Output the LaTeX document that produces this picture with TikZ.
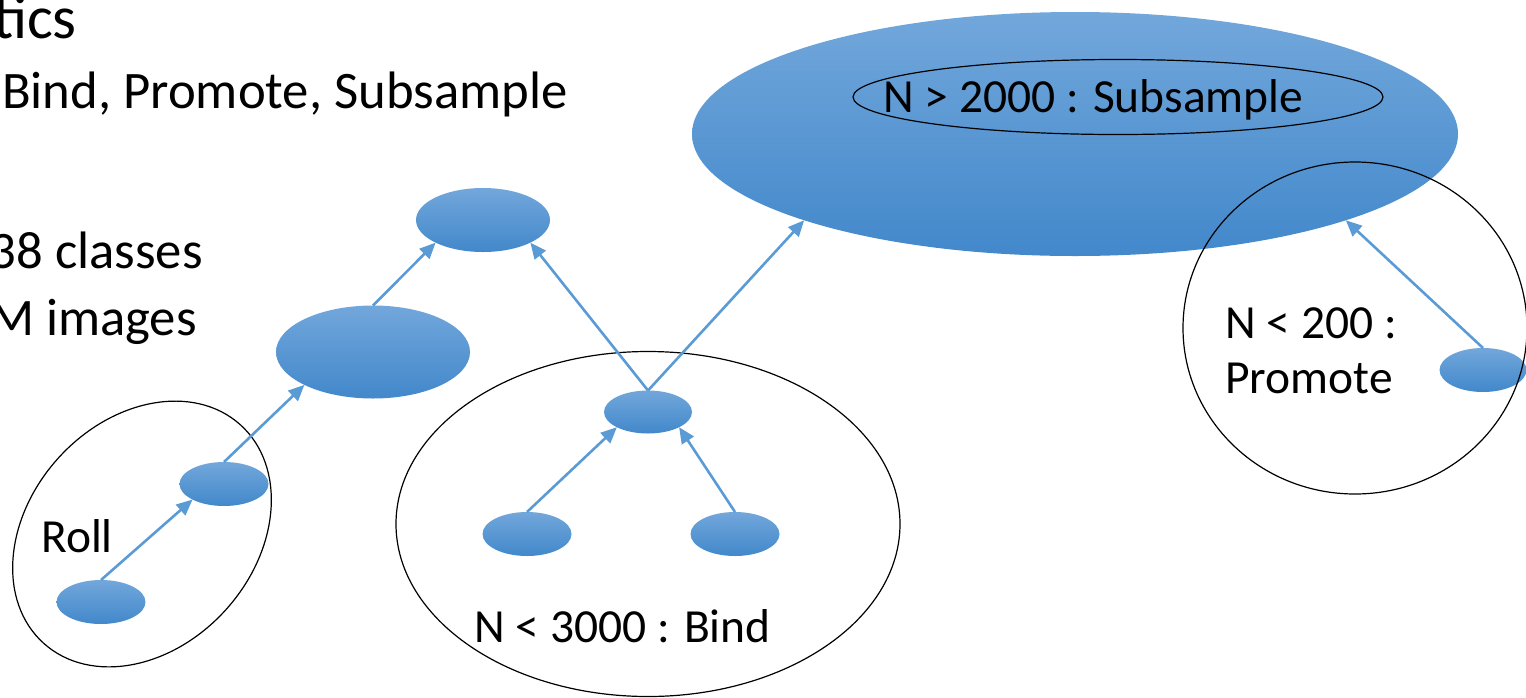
\documentclass[tikz,border=0pt]{standalone}
\usepackage{fontspec}
\setmainfont{Carlito}
\usetikzlibrary{shapes.geometric,arrows.meta}

\definecolor{blobtop}{RGB}{114,167,219}
\definecolor{blobbot}{RGB}{66,136,203}
\definecolor{linkblue}{RGB}{91,155,213}

\tikzset{
  blob/.style={ellipse,top color=blobtop,bottom color=blobbot,draw=none,inner sep=0pt,outer sep=0pt},
  ring/.style={ellipse,draw=black,line width=1.2pt,inner sep=0pt,outer sep=0pt},
  link/.style={draw=linkblue,line width=2.6pt,-{Triangle[length=16pt,width=14pt]}},
  bigtxt/.style={inner sep=0pt,font=\fontsize{52.7}{63}\selectfont},
  lbl/.style={anchor=base west,inner sep=0pt,font=\fontsize{47.5}{57}\selectfont}
}

\begin{document}
\begin{tikzpicture}[x=1pt,y=1pt,yscale=-1,xscale=1]
\useasboundingbox (0,0) rectangle (1526,697);

%Shape: Ellipse [blue]
\node[blob,minimum width=766pt,minimum height=244pt] (root) at (1075,134) {};
\node[blob,minimum width=134pt,minimum height=64pt] (top) at (483,220) {};
\node[blob,minimum width=194pt,minimum height=93pt] (mid) at (373,352) {};
\node[blob,minimum width=89pt,minimum height=44pt] (rollup) at (224,484) {};
\node[blob,minimum width=89pt,minimum height=44pt] (rolldown) at (101,602) {};
\node[blob,minimum width=88pt,minimum height=43pt] (bindtop) at (648,412) {};
\node[blob,minimum width=89pt,minimum height=44pt] (bindl) at (527,534) {};
\node[blob,minimum width=89pt,minimum height=44pt] (bindr) at (735,534) {};
\node[blob,minimum width=87pt,minimum height=44pt] (promleaf) at (1483,370) {};

%Shape: Ellipse [outline]
\node[ring,minimum width=530pt,minimum height=75pt] (subring) at (1118,97) {};
\node[ring,minimum width=294pt,minimum height=226pt,rotate=48] (rollring) at (142,534) {};
\node[ring,minimum width=504pt,minimum height=345pt] (bindring) at (648,524) {};
\node[ring,minimum width=344pt,minimum height=332pt] (promring) at (1355,328) {};

%Straight Lines
\draw[link] (rolldown.north) -- (rollup.south west);
\draw[link] (rollup.north) -- (mid.south west);
\draw[link] (mid.north) -- (top.south west);
\draw[link] (bindtop.north) -- (top.south east);
\draw[link] (bindtop.north) -- (root.south west);
\draw[link] (bindl.north) -- (bindtop.south west);
\draw[link] (bindr.north) -- (bindtop.south east);
\draw[link] (promleaf.north) -- (root.south east);

% Text Node
\node[bigtxt,anchor=base east,font=\fontsize{61}{70}\selectfont] (title) at (77,38) {tics};
\node[bigtxt,anchor=base west] (ops) at (2,108) {Bind, Promote, Subsample};
\node[bigtxt,anchor=base east] (classes) at (203,268) {38 classes};
\node[bigtxt,anchor=base east] (images) at (197,335) {M images};
\node[lbl] (rolllbl) at (41,552) {Roll};
\node[lbl] (bindlbl) at (474,642) {N < 3000 : Bind};
\node[lbl] (promlbl) at (1225,338) {N < 200 :};
\node[lbl] (promlbl2) at (1225,393) {Promote};
\node[lbl] (sublbl) at (883,112) {N > 2000 : Subsample};

\end{tikzpicture}
\end{document}
